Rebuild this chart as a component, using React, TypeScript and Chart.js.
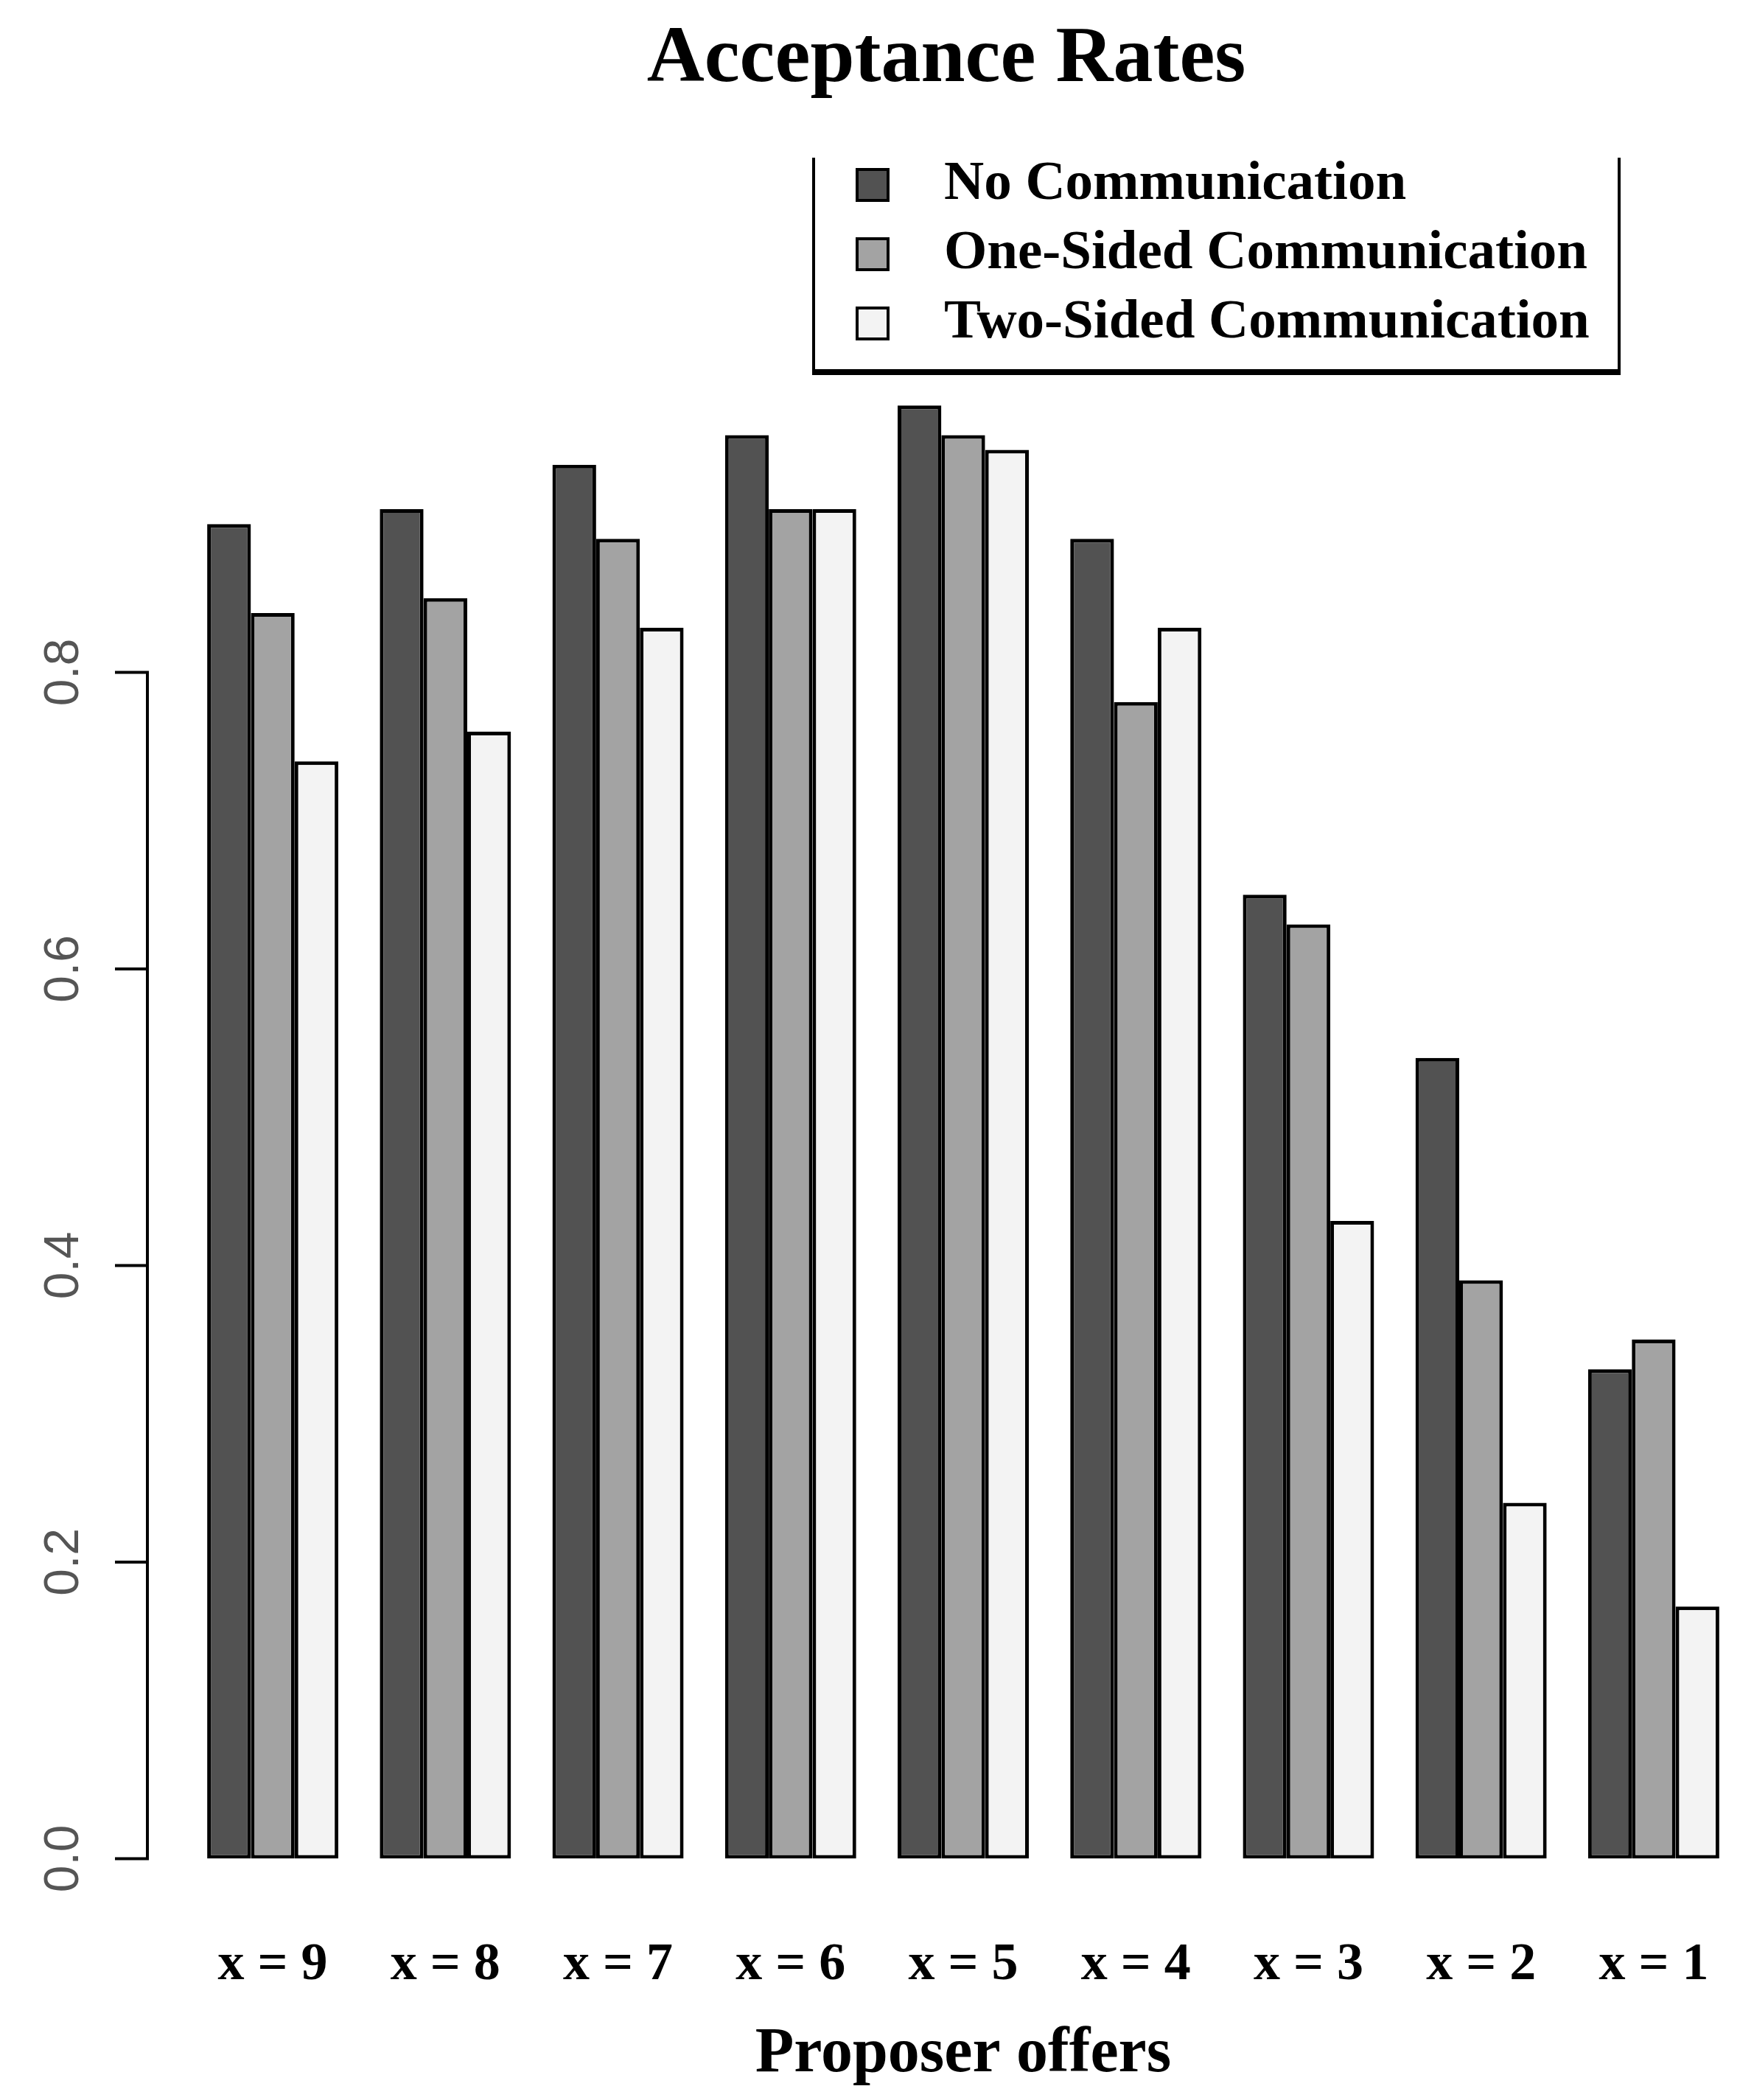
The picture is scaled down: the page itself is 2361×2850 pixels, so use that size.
import React, { useEffect, useRef } from "react";
import { Chart, registerables } from "chart.js";

Chart.register(...registerables);

const categories = ["x = 9", "x = 8", "x = 7", "x = 6", "x = 5", "x = 4", "x = 3", "x = 2", "x = 1"];
const noCommunication = [0.9, 0.91, 0.94, 0.96, 0.98, 0.89, 0.65, 0.54, 0.33];
const oneSided = [0.84, 0.85, 0.89, 0.91, 0.96, 0.78, 0.63, 0.39, 0.35];
const twoSided = [0.74, 0.76, 0.83, 0.91, 0.95, 0.83, 0.43, 0.24, 0.17];
const yTicks = [0, 0.2, 0.4, 0.6, 0.8];
const seriesNames = ["No Communication", "One-Sided Communication", "Two-Sided Communication"];
const seriesColors = ["#525252", "#a3a3a3", "#f3f3f3"];

const SERIF = '"Liberation Serif", "Times New Roman", serif';
const SANS = '"Liberation Sans", Arial, sans-serif';

// title, R-style y axis and the legend box
const decorations = {
  id: "decorations",
  afterDraw(chart: any) {
    const { ctx } = chart;
    const y = chart.scales.y;
    ctx.save();

    ctx.fillStyle = "#000";
    ctx.font = `bold 108px ${SERIF}`;
    ctx.textAlign = "center";
    ctx.textBaseline = "middle";
    ctx.fillText("Acceptance Rates", 1284, 82);

    // y axis
    const ax = 200;
    ctx.strokeStyle = "#000";
    ctx.lineWidth = 4;
    ctx.beginPath();
    ctx.moveTo(ax, y.getPixelForValue(yTicks[0]) + 2);
    ctx.lineTo(ax, y.getPixelForValue(yTicks[yTicks.length - 1]) - 2);
    yTicks.forEach((v) => {
      const py = y.getPixelForValue(v);
      ctx.moveTo(ax + 2, py);
      ctx.lineTo(ax - 44, py);
    });
    ctx.stroke();

    ctx.fillStyle = "#555";
    ctx.font = `66px ${SANS}`;
    yTicks.forEach((v) => {
      const py = y.getPixelForValue(v);
      ctx.save();
      ctx.translate(88, py);
      ctx.rotate(-Math.PI / 2);
      ctx.fillText(v.toFixed(1), 0, 0);
      ctx.restore();
    });

    // legend
    const left = 1104;
    const right = 2197;
    ctx.lineWidth = 4;
    ctx.beginPath();
    ctx.moveTo(left, 214);
    ctx.lineTo(left, 508);
    ctx.moveTo(right, 214);
    ctx.lineTo(right, 508);
    ctx.stroke();
    ctx.lineWidth = 8;
    ctx.beginPath();
    ctx.moveTo(left - 2, 505);
    ctx.lineTo(right + 2, 505);
    ctx.stroke();

    ctx.font = `bold 75px ${SERIF}`;
    ctx.textAlign = "left";
    seriesNames.forEach((name, i) => {
      const cy = 251 + i * 94;
      ctx.fillStyle = seriesColors[i];
      ctx.fillRect(1163, cy - 21, 42, 42);
      ctx.lineWidth = 4;
      ctx.strokeRect(1163, cy - 21, 42, 42);
      ctx.fillStyle = "#000";
      ctx.fillText(name, 1281, cy);
    });

    ctx.restore();
  },
};

const App: React.FC = () => {
  const chartRef = useRef<HTMLCanvasElement | null>(null);
  const chartInstance = useRef<Chart | null>(null);

  useEffect(() => {
    if (chartRef.current) {
      if (chartInstance.current) {
        chartInstance.current.destroy();
      }
      const ctx = chartRef.current.getContext("2d");
      if (ctx) {
        const series = [noCommunication, oneSided, twoSided];
        chartInstance.current = new Chart(ctx, {
          type: "bar",
          data: {
            labels: categories,
            datasets: series.map((data, i) => ({
              label: seriesNames[i],
              data: data,
              backgroundColor: seriesColors[i],
              borderColor: "#000",
              borderWidth: 5,
              borderSkipped: false,
              barPercentage: 1,
              categoryPercentage: 0.76,
            })),
          },
          options: {
            animation: false,
            responsive: true,
            maintainAspectRatio: false,
            layout: { padding: { top: 510, left: 253, right: -4, bottom: 0 } },
            plugins: {
              legend: { display: false },
              title: { display: false },
              tooltip: { enabled: false },
            },
            scales: {
              x: {
                offset: true,
                // tick marks are hidden; tickLength only sets the label gap
                grid: { display: false, drawTicks: true, tickLength: 102 },
                border: { display: false },
                ticks: {
                  color: "#000",
                  font: { family: SERIF, size: 72, weight: "bold" },
                  padding: 0,
                  autoSkip: false,
                  maxRotation: 0,
                },
                title: {
                  display: true,
                  text: "Proposer offers",
                  color: "#000",
                  font: { family: SERIF, size: 86, weight: "bold" },
                  padding: { top: 26, bottom: 10 },
                },
              },
              y: {
                display: false,
                min: 0,
                max: 1,
              },
            },
          },
          plugins: [decorations],
        });
      }
    }
    return () => {
      if (chartInstance.current) {
        chartInstance.current.destroy();
        chartInstance.current = null;
      }
    };
  }, []);

  return (
    <div style={{ position: "absolute", left: 0, top: 0, width: 2361, height: 2850, background: "#fff" }}>
      <canvas ref={chartRef} />
    </div>
  );
};

export default App;
